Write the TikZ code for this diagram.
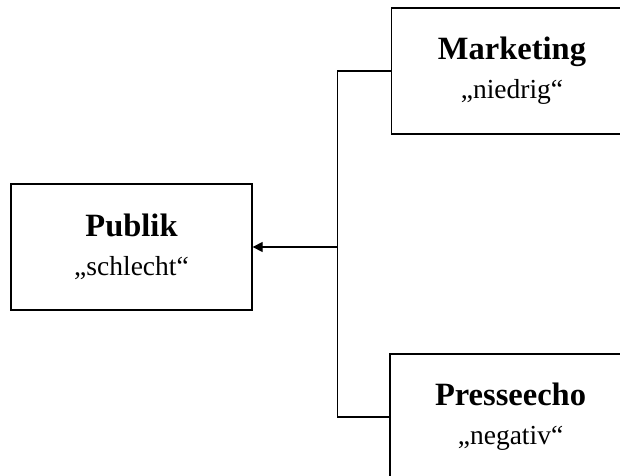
\documentclass[tikz,border=0pt]{standalone}
\usepackage{fontspec}
\setmainfont{Liberation Serif}
\usetikzlibrary{arrows.meta}
\tikzset{
  boxnode/.style={draw, line width=1.3pt, minimum width=241pt, minimum height=126pt, inner sep=0pt, align=center, font=\fontsize{27.5}{39}\selectfont},
  conn/.style={line width=1.3pt}
}
\newcommand{\ttlfont}{\fontsize{32.5}{39}\selectfont\bfseries}
\begin{document}
\begin{tikzpicture}[x=1pt,y=1pt]
\useasboundingbox (0,0) rectangle (620,475);
\clip (0,0) rectangle (620,475);
\fill[white] (0,0) rectangle (620,475);
\node[boxnode] (pb) at (131.5,228) {{\ttlfont Publik}\\„schlecht“};
\node[boxnode] (mk) at (512,404) {{\ttlfont Marketing}\\„niedrig“};
\node[boxnode] (pe) at (510.5,58) {{\ttlfont Presseecho}\\„negativ“};
\coordinate (j) at (337.5,228);
\draw[conn] (mk.west) -| (j) |- (pe.west);
\draw[conn,-{Triangle[length=10pt,width=10pt]}] (j) -- (pb.east);
\end{tikzpicture}
\end{document}
